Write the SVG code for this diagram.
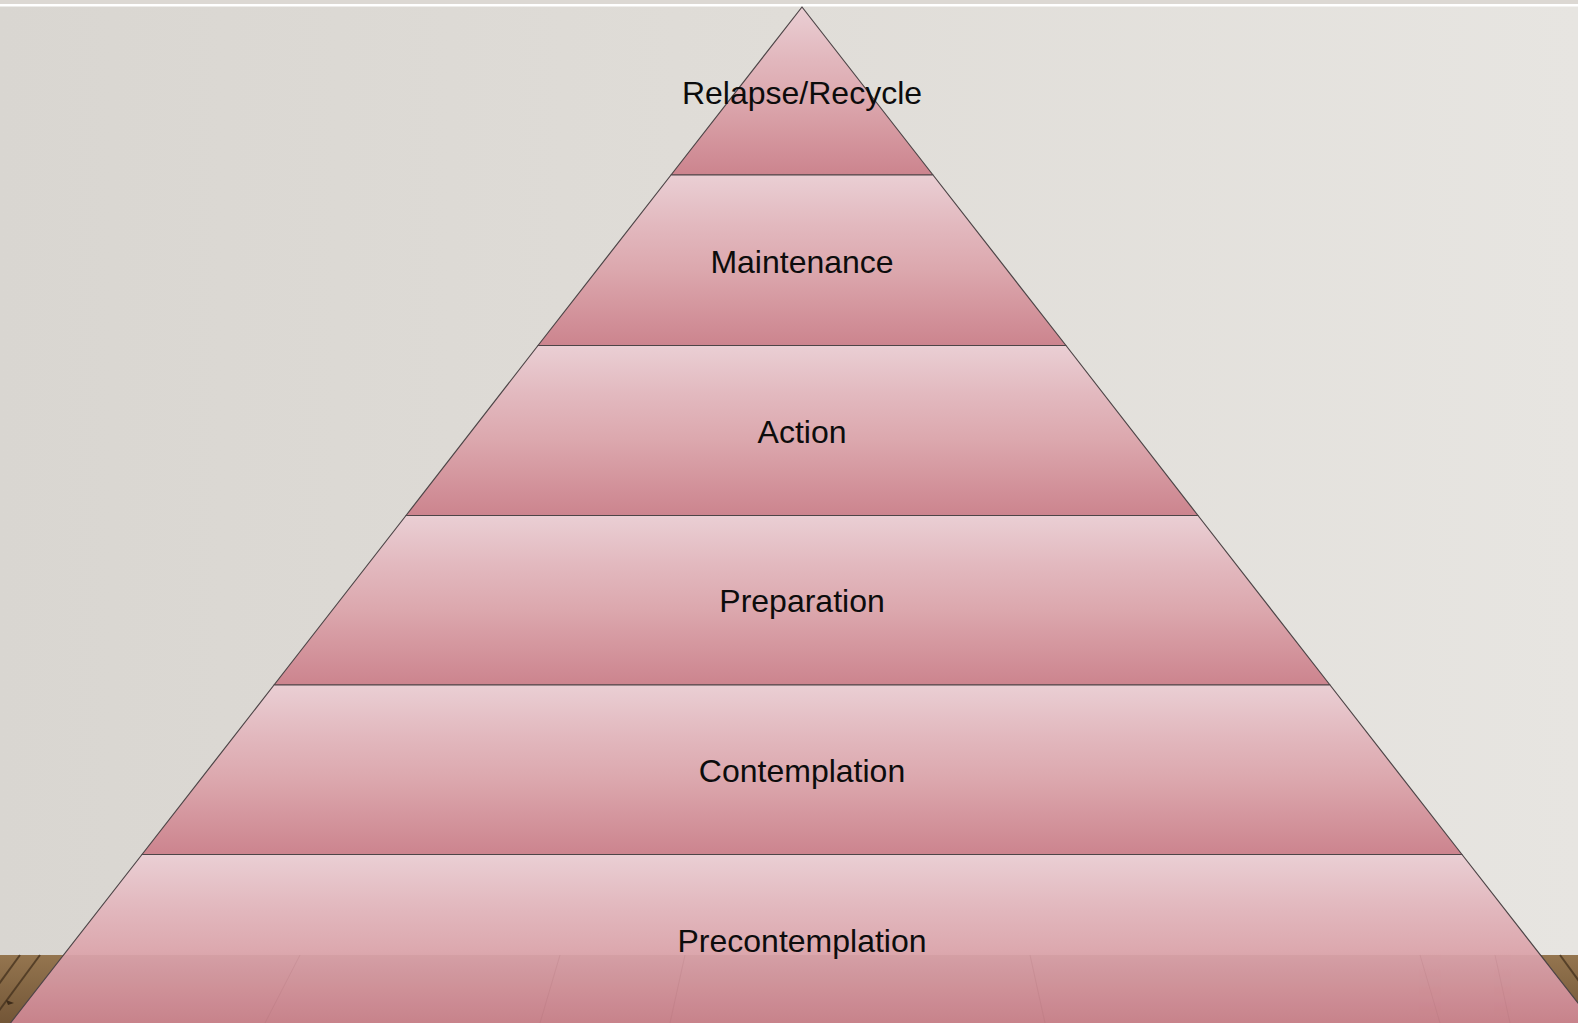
<svg xmlns="http://www.w3.org/2000/svg" width="1578" height="1023" viewBox="0 0 1578 1023">
  <defs>
    <linearGradient id="wall" x1="0" y1="0" x2="1" y2="0">
      <stop offset="0" stop-color="#d9d6d1"/>
      <stop offset="0.5" stop-color="#e0ddd8"/>
      <stop offset="1" stop-color="#e7e5e1"/>
    </linearGradient>
    <linearGradient id="wood" x1="0" y1="0" x2="0" y2="1">
      <stop offset="0" stop-color="#94754f"/>
      <stop offset="1" stop-color="#735637"/>
    </linearGradient>
    <linearGradient id="band" x1="0" y1="0" x2="0" y2="1">
      <stop offset="0" stop-color="#eacfd4"/>
      <stop offset="0.3" stop-color="#e2b8be"/>
      <stop offset="0.55" stop-color="#dca8ae"/>
      <stop offset="1" stop-color="#cc848e"/>
    </linearGradient>
    <clipPath id="pyr">
      <polygon points="802,7 1599,1030 5,1030"/>
    </clipPath>
    <style>
      .band { fill: url(#band); stroke: #4d4547; stroke-width: 1.2; stroke-linejoin: round; }
      .lbl { font-family: "Liberation Sans", Arial, sans-serif; font-size: 32px; fill: #0c0c0c; text-anchor: middle; }
      .plank { stroke: #3e2c1a; stroke-width: 2; opacity: 0.7; }
      .seam { stroke: #9a5c64; stroke-width: 1; opacity: 0.14; }
    </style>
  </defs>

  <!-- wall and floor -->
  <rect x="0" y="0" width="1578" height="1023" fill="url(#wall)"/>
  <rect x="0" y="0" width="1578" height="4" fill="#dcd8d3"/>
  <rect x="0" y="4" width="1578" height="2.5" fill="#ffffff"/>
  <rect x="0" y="955" width="1578" height="68" fill="url(#wood)"/>
  <g>
    <line class="plank" x1="40" y1="955" x2="-10" y2="1023"/>
    <line class="plank" x1="20" y1="955" x2="-20" y2="1010"/>
    <path d="M6,1000 l8,3 l-6,2 z" fill="#3e2c1a"/>
    <line class="plank" x1="1560" y1="955" x2="1600" y2="1010"/>
    <line class="plank" x1="1540" y1="955" x2="1590" y2="1023"/>
  </g>

  <!-- pyramid tiers -->
  <g id="tier-relapse">
    <polygon class="band" points="802,7 933,175 671,175"/>
    <text class="lbl" x="802" y="104">Relapse/Recycle</text>
  </g>
  <g id="tier-maintenance">
    <polygon class="band" points="671,175 933,175 1066,345.5 538,345.5"/>
    <text class="lbl" x="802" y="273">Maintenance</text>
  </g>
  <g id="tier-action">
    <polygon class="band" points="538,345.5 1066,345.5 1198,515.5 406,515.5"/>
    <text class="lbl" x="802" y="443">Action</text>
  </g>
  <g id="tier-preparation">
    <polygon class="band" points="406,515.5 1198,515.5 1330,685 274,685"/>
    <text class="lbl" x="802" y="612">Preparation</text>
  </g>
  <g id="tier-contemplation">
    <polygon class="band" points="274,685 1330,685 1462,854.5 142,854.5"/>
    <text class="lbl" x="802" y="782">Contemplation</text>
  </g>
  <g id="tier-precontemplation">
    <polygon class="band" points="142,854.5 1462,854.5 1599,1030 5,1030"/>
    <text class="lbl" x="802" y="952">Precontemplation</text>
  </g>

  <!-- floor reflection across the base tier -->
  <g clip-path="url(#pyr)">
    <rect x="0" y="955" width="1578" height="68" fill="#7a4a40" opacity="0.07"/>
    <line class="seam" x1="300" y1="955" x2="265" y2="1023"/>
    <line class="seam" x1="560" y1="955" x2="540" y2="1023"/>
    <line class="seam" x1="685" y1="955" x2="670" y2="1023"/>
    <line class="seam" x1="1030" y1="955" x2="1045" y2="1023"/>
    <line class="seam" x1="1420" y1="955" x2="1440" y2="1023"/>
    <line class="seam" x1="1495" y1="955" x2="1510" y2="1023"/>
  </g>
</svg>
